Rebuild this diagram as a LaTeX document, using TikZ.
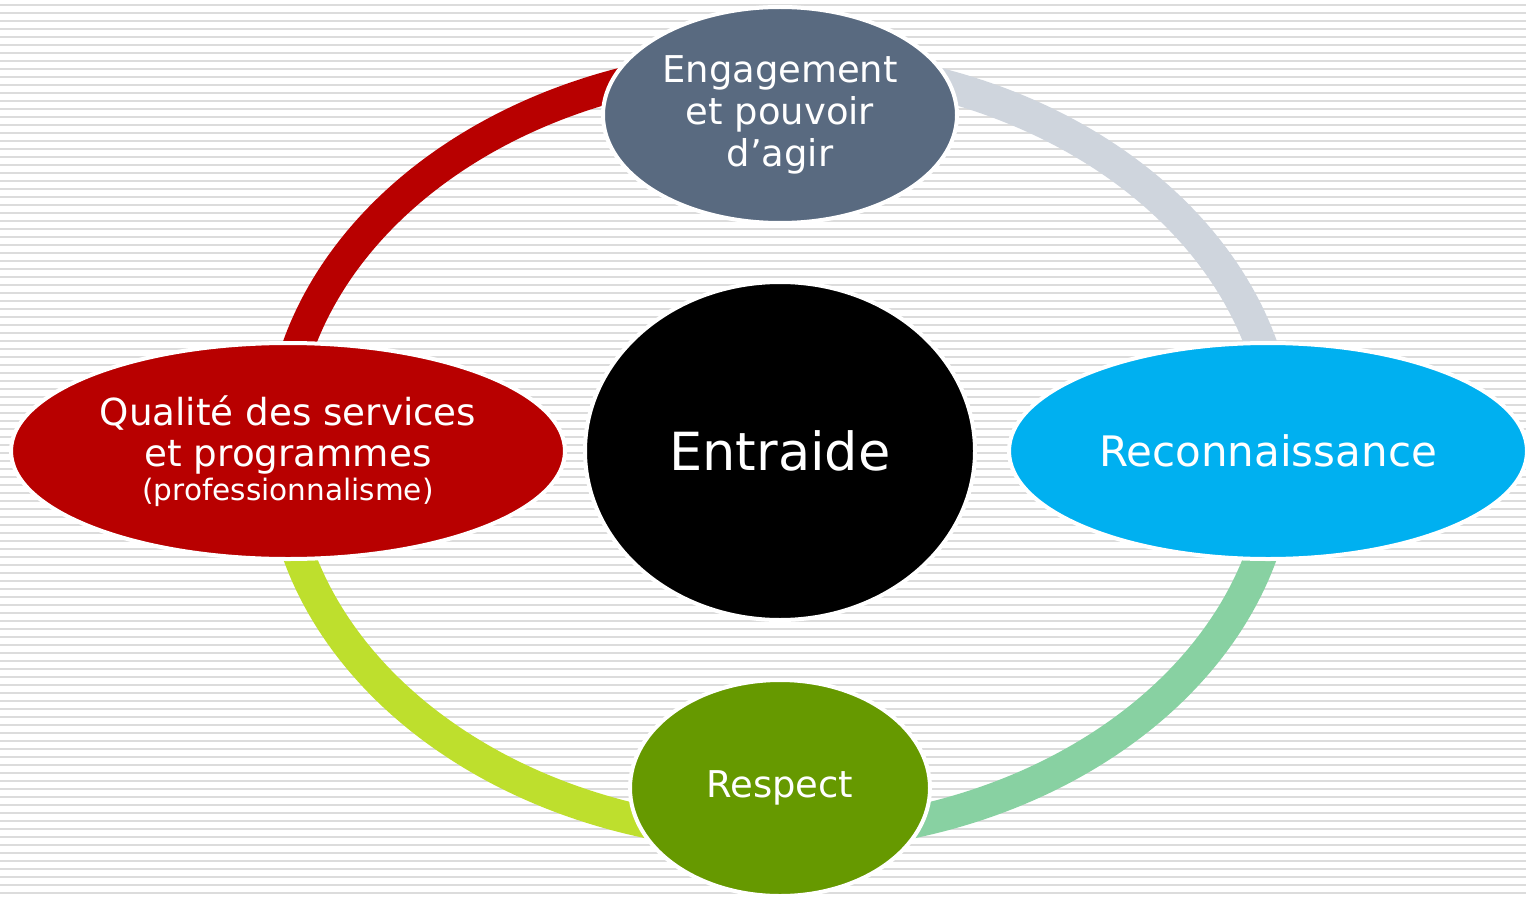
\documentclass[tikz,border=0pt]{standalone}
\usepackage{fontspec}
\setmainfont{DejaVu Sans}
\usepackage{tikz}
\usetikzlibrary{shapes.geometric,positioning}

\definecolor{ringred}{HTML}{B80000}
\definecolor{ringgray}{HTML}{CFD5DD}
\definecolor{ringlime}{HTML}{BEDF2D}
\definecolor{ringmint}{HTML}{88D1A2}
\definecolor{slate}{HTML}{596A80}
\definecolor{sky}{HTML}{00B0F0}
\definecolor{leaf}{HTML}{669900}
\definecolor{stripe}{HTML}{DCDCDC}

\tikzset{
  bubble/.style={ellipse, draw=white, line width=0.08cm, text=white, align=center, inner sep=0pt},
  band/.style={line width=0.64cm},
}

\begin{document}
\begin{tikzpicture}
\useasboundingbox (0,0) rectangle (30.52,17.94);
\fill[white] (0,0) rectangle (30.52,17.94);

% striped background
\foreach \k in {0,...,111}
   \draw[stripe, line width=0.04cm] (0,17.84-0.16*\k) -- (30.52,17.84-0.16*\k);

% the ring, one quarter per colour
\coordinate (hub) at (15.6,8.94);
\draw[band, ringgray] ([yshift=7.72cm]hub) arc[start angle=90, end angle=0, x radius=10cm, y radius=7.72cm];
\draw[band, ringred] ([yshift=7.72cm]hub) arc[start angle=90, end angle=180, x radius=10cm, y radius=7.72cm];
\draw[band, ringlime] ([yshift=-7.72cm]hub) arc[start angle=270, end angle=180, x radius=10cm, y radius=7.72cm];
\draw[band, ringmint] ([yshift=-7.72cm]hub) arc[start angle=270, end angle=360, x radius=10cm, y radius=7.72cm];

\node[bubble, fill=black, minimum width=7.8cm, minimum height=6.76cm,
      font=\fontsize{29.9}{34}\selectfont] (entraide) at (15.6,8.92) {Entraide};
\node[bubble, fill=slate, minimum width=7.08cm, minimum height=4.32cm,
      font=\fontsize{21}{24}\selectfont] (engagement) at (15.6,15.64) {Engagement\\ et pouvoir\\ d’agir};
\node[bubble, fill=ringred, minimum width=11.08cm, minimum height=4.32cm,
      font=\fontsize{21.2}{23.5}\selectfont] (qualite) at (5.76,8.92)
      {Qualité des services\\ et programmes\\[-4pt] {\fontsize{16.8}{18}\selectfont(professionnalisme)}};
\node[bubble, fill=sky, minimum width=10.36cm, minimum height=4.32cm,
      font=\fontsize{23.9}{27}\selectfont] (reconnaissance) at (25.36,8.92) {Reconnaissance};
\node[bubble, fill=leaf, minimum width=6cm, minimum height=4.32cm,
      font=\fontsize{21}{24}\selectfont] (respect) at (15.6,2.18) {Respect};

\end{tikzpicture}
\end{document}
